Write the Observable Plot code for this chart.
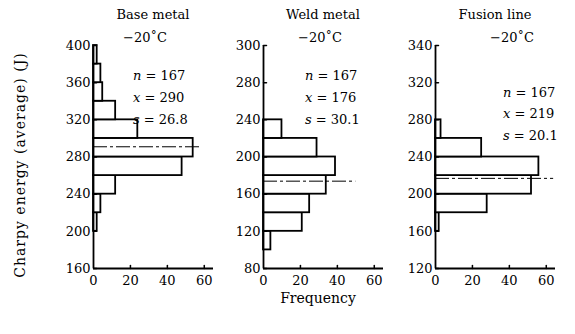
<!DOCTYPE html>
<html><head><meta charset="utf-8">
<script src="https://cdn.jsdelivr.net/npm/d3@7"></script>
<script src="https://cdn.jsdelivr.net/npm/@observablehq/plot@0.6"></script>
<style>
body{margin:0;background:#fff;}
#wrap{position:relative;width:575px;height:334px;overflow:hidden;font-family:"DejaVu Serif",serif;color:#000;background:#fff;}
.t{position:absolute;white-space:nowrap;font-size:13px;line-height:13px;}
.c{transform:translateX(-50%);}
.panel{position:absolute;top:0;}
.ylab{position:absolute;left:20px;top:165px;transform:translate(-50%,-50%) rotate(-90deg);font-size:14px;letter-spacing:1px;white-space:nowrap;}
</style></head><body><div id="wrap"></div>
<script>
// ---- data ----
const panelTitles = ["Base metal", "Weld metal", "Fusion line"];
const temperatureLabel = "\u221220\u02daC";
const sampleSizes = [167, 167, 167];
const meanValues = [290, 176, 219];
const stdDevs = ["26.8", "30.1", "20.1"];

const binWidth = 20;
const baseBinLow = [200, 220, 240, 260, 280, 300, 320, 340, 360, 380];
const baseCounts = [2, 4, 12, 48, 54, 24, 12, 5, 4, 2];
const weldBinLow = [100, 120, 140, 160, 180, 200, 220];
const weldCounts = [4, 21, 25, 34, 39, 29, 10];
const fusionBinLow = [160, 180, 200, 220, 240, 260];
const fusionCounts = [2, 28, 52, 56, 25, 3];

// drawn position of the mean line (energy) and how far it reaches (frequency)
const meanLineEnergy = [291, 174, 217];
const meanLineReach = [58, 50, 64];

const yDomains = [[160, 400], [80, 320], [120, 360]];
const yTickValues = [
  [160, 200, 240, 280, 320, 360, 400],
  [80, 120, 160, 200, 240, 280, 320],
  [120, 160, 200, 240, 280, 320, 360]
];
const yTickLabels = [
  ["160", "200", "240", "280", "320", "360", "400"],
  ["80", "120", "160", "200", "240", "280", "300"],
  ["120", "160", "200", "240", "280", "320", "340"]
];
const xTickValues = [0, 20, 40, 60];
const xDomain = [0, 65];
const xAxisTitle = "Frequency";
const yAxisTitle = "Charpy energy (average) (J)";

// ---- layout ----
const axisLeft = [93, 263, 435];
const mL = 36, mR = 8, plotW = 120;
const titleTops = [8, 8, 8];
const tempPos = [[123, 31], [298, 31], [490, 31]];
const statPos = [[133, [69, 91, 113]], [305, [69, 91, 113]], [503, [86, 107, 129]]];

const wrap = document.getElementById("wrap");
const binsLow = [baseBinLow, weldBinLow, fusionBinLow];
const binsCount = [baseCounts, weldCounts, fusionCounts];

const tickShape = {draw(ctx, l) { ctx.moveTo(0, 0); ctx.lineTo(0, -l); }};

for (let i = 0; i < 3; i++) {
  const bins = binsLow[i].map((lo, j) => ({lo, hi: lo + binWidth, count: binsCount[i][j]}));
  const ymin = yDomains[i][0];
  const ticks = yTickValues[i], labels = yTickLabels[i];
  const chart = Plot.plot({
    width: mL + plotW + mR, height: 300,
    marginLeft: mL, marginRight: mR, marginTop: 45, marginBottom: 32,
    x: {domain: xDomain},
    y: {domain: yDomains[i]},
    style: {background: "transparent", fontFamily: "DejaVu Serif, serif", fontSize: "13px", color: "#000", overflow: "visible"},
    marks: [
      Plot.rect(bins, {x1: 0, x2: "count", y1: "lo", y2: "hi", fill: "white", stroke: "black", strokeWidth: 1.8}),
      Plot.ruleY([meanLineEnergy[i]], {x1: 0, x2: meanLineReach[i], stroke: "black", strokeWidth: 1, strokeDasharray: "14,3,3,3"}),
      Plot.ruleX([0], {stroke: "black", strokeWidth: 1.8}),
      Plot.ruleY([ymin], {stroke: "black", strokeWidth: 1.8}),
      Plot.vector(ticks, {x: 0, y: d => d, length: 3, rotate: 90, anchor: "start", shape: tickShape, stroke: "black", strokeWidth: 1.5}),
      Plot.vector(xTickValues.slice(1), {x: d => d, y: ymin, length: 3, rotate: 0, anchor: "start", shape: tickShape, stroke: "black", strokeWidth: 1.5}),
      Plot.axisY(ticks, {tickSize: 0, tickPadding: 3, tickFormat: d => labels[ticks.indexOf(d)], label: null}),
      Plot.axisX(xTickValues, {tickSize: 0, tickPadding: 7, label: null})
    ]
  });
  chart.classList.add("panel");
  chart.style.left = (axisLeft[i] - mL) + "px";
  chart.style.position = "absolute";
  wrap.appendChild(chart);

  const title = document.createElement("div");
  title.className = "t c";
  title.style.left = (axisLeft[i] + plotW / 2) + "px";
  title.style.top = titleTops[i] + "px";
  title.textContent = panelTitles[i];
  wrap.appendChild(title);

  const temp = document.createElement("div");
  temp.className = "t";
  temp.style.left = tempPos[i][0] + "px";
  temp.style.top = tempPos[i][1] + "px";
  temp.textContent = temperatureLabel;
  wrap.appendChild(temp);

  const stats = [
    ["n", " = " + sampleSizes[i]],
    ["x", " = " + meanValues[i]],
    ["s", " = " + stdDevs[i]]
  ];
  stats.forEach(([sym, rest], k) => {
    const d = document.createElement("div");
    d.className = "t";
    d.style.left = statPos[i][0] + "px";
    d.style.top = statPos[i][1][k] + "px";
    const it = document.createElement("i");
    it.textContent = sym;
    d.appendChild(it);
    d.appendChild(document.createTextNode(rest));
    wrap.appendChild(d);
  });
}

const xt = document.createElement("div");
xt.className = "t c";
xt.style.left = "318px";
xt.style.top = "292px";
xt.style.fontSize = "14px";
xt.textContent = xAxisTitle;
wrap.appendChild(xt);

const yt = document.createElement("div");
yt.className = "ylab";
yt.textContent = yAxisTitle;
wrap.appendChild(yt);
</script>
</body></html>
